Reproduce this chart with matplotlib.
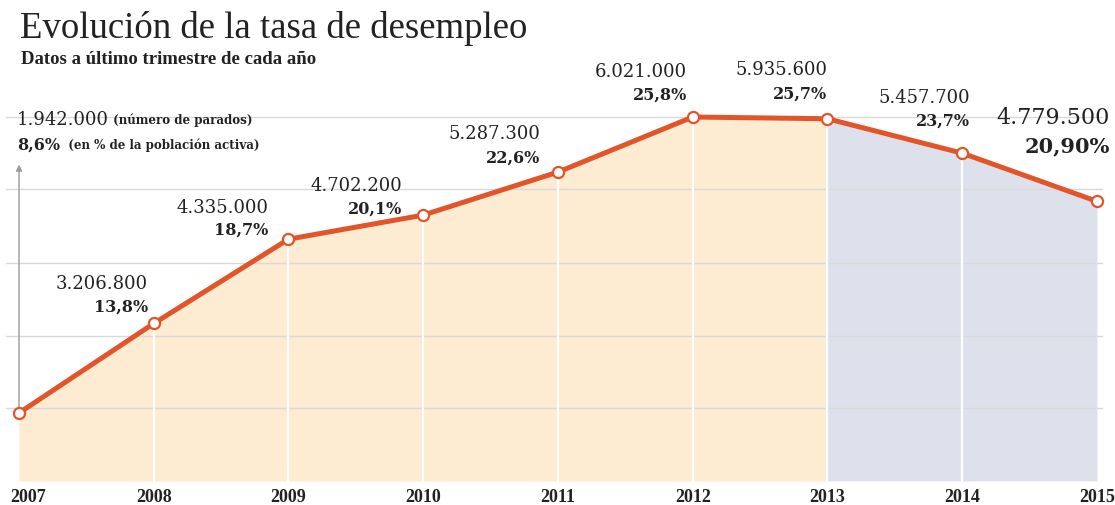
import matplotlib
matplotlib.use("Agg")
import matplotlib.pyplot as plt

# datos: último trimestre de cada año (EPA)
years = [2007, 2008, 2009, 2010, 2011, 2012, 2013, 2014, 2015]
parados = [1942000, 3206800, 4335000, 4702200, 5287300, 6021000, 5935600, 5457700, 4779500]
tasa = [8.6, 13.8, 18.7, 20.1, 22.6, 25.8, 25.7, 23.7, 20.9]
tasa_labels = ["8,6%", "13,8%", "18,7%", "20,1%", "22,6%", "25,8%", "25,7%", "23,7%", "20,90%"]
grid_y = [8.9, 13.1, 17.3, 21.6, 25.8]
base = 4.65
split_year = 2013

LINE = "#E2552A"
PEACH = "#FDEBD2"
BLUE = "#DCE1EB"
TXT = "#222222"

fig = plt.figure(figsize=(11.15, 5.06), dpi=100)
ax = fig.add_axes([0, 0, 1, 1])
ax.set_xlim(2006.859, 2015.134)
ax.set_ylim(3.25, 32.66)
ax.axis("off")

def fmt(n):
    return format(n, ",").replace(",", ".")

# relleno
i = years.index(split_year)
ax.fill_between(years[:i + 1], tasa[:i + 1], base, color=PEACH, lw=0, zorder=1)
ax.fill_between(years[i:], tasa[i:], base, color=BLUE, lw=0, zorder=1)

# rejilla
for g in grid_y:
    ax.plot([2006.90, 2015.04], [g, g], color="#D9D9D9", lw=1, zorder=2)
for yr, t in zip(years[1:-1], tasa[1:-1]):
    ax.plot([yr, yr], [base, t], color="white", lw=1.6, zorder=2)

# eje con flecha
ax.annotate("", xy=(years[0], 23.2), xytext=(years[0], tasa[0]),
            arrowprops=dict(arrowstyle="-|>", color="#9A9A9A", lw=1, mutation_scale=9), zorder=2)

ax.plot(years, tasa, color=LINE, lw=3.6, marker="o", ms=8, mfc="white",
        mec=LINE, mew=1.6, zorder=5, solid_capstyle="round")

# años
for yr in years:
    dx = 9 if yr == years[0] else 0
    ax.annotate(str(yr), (yr, base), xytext=(dx, -16), textcoords="offset pixels",
                ha="center", va="center", fontsize=13, fontweight="bold",
                family="Liberation Serif", color=TXT)

# etiquetas
offs = {2008: (-6, 40, 17), 2009: (-20, 32, 10), 2010: (-21, 30, 7),
        2011: (-18, 39, 15), 2012: (-6, 46, 23), 2013: (0, 50, 26),
        2014: (8, 56, 33)}
for yr, n, t, lab in zip(years, parados, tasa, tasa_labels):
    if yr in offs:
        dx, d1, d2 = offs[yr]
        ax.annotate(fmt(n), (yr, t), xytext=(dx, d1), textcoords="offset pixels",
                    ha="right", va="center", fontsize=13, family="DejaVu Serif",
                    color=TXT)
        ax.annotate(lab, (yr, t), xytext=(dx, d2), textcoords="offset pixels",
                    ha="right", va="center", fontsize=11.5, fontweight="bold",
                    family="DejaVu Serif", color=TXT)

# 2015 destacado
ax.annotate(fmt(parados[-1]), (years[-1], tasa[-1]), xytext=(13, 84),
            textcoords="offset pixels", ha="right", va="center", fontsize=16,
            family="DejaVu Serif", color=TXT)
ax.annotate(tasa_labels[-1], (years[-1], tasa[-1]), xytext=(13, 56),
            textcoords="offset pixels", ha="right", va="center", fontsize=15,
            fontweight="bold", family="DejaVu Serif", color=TXT)

# 2007 con leyenda
t1 = ax.annotate(fmt(parados[0]), (years[0], tasa[0]), xytext=(-2, 294),
                 textcoords="offset pixels", ha="left", va="center", fontsize=13,
                 family="DejaVu Serif", color=TXT)
ax.annotate(" (número de parados)", xycoords=t1, xy=(1, 0.5), va="center",
            fontsize=8.6, fontweight="bold", family="DejaVu Serif", color=TXT)
t2 = ax.annotate(tasa_labels[0], (years[0], tasa[0]), xytext=(-2, 269),
                 textcoords="offset pixels", ha="left", va="center", fontsize=11.5,
                 fontweight="bold", family="DejaVu Serif", color=TXT)
ax.annotate("  (en % de la población activa)", xycoords=t2, xy=(1, 0.5), va="center",
            fontsize=8.6, fontweight="bold", family="DejaVu Serif", color=TXT)

fig.text(20 / 1115, 1 - 28 / 506, "Evolución de la tasa de desempleo", fontsize=26.5,
         family="Liberation Serif", color=TXT, va="center", ha="left")
fig.text(21 / 1115, 1 - 60 / 506, "Datos a último trimestre de cada año", fontsize=13.5,
         fontweight="bold", family="Liberation Serif", color=TXT, va="center", ha="left")

fig.savefig("out.png", dpi=100, facecolor="white")
